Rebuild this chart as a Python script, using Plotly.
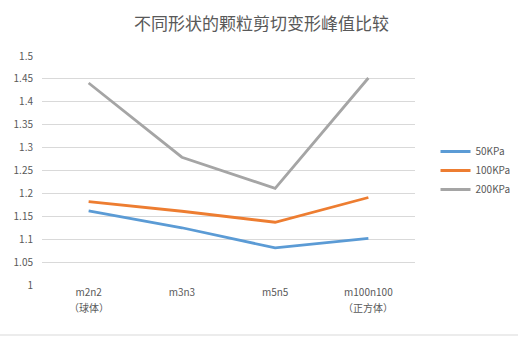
import plotly.graph_objects as go

categories = ["m2n2", "m3n3", "m5n5", "m100n100"]
sub_labels = ["（球体）", "", "", "（正方体）"]
series_names = ["50KPa", "100KPa", "200KPa"]
s50 = [1.162, 1.125, 1.081, 1.102]
s100 = [1.182, 1.161, 1.137, 1.191]
s200 = [1.441, 1.279, 1.211, 1.452]
colors = ["#5B9BD5", "#ED7D31", "#A5A5A5"]
y_ticks = [1, 1.05, 1.1, 1.15, 1.2, 1.25, 1.3, 1.35, 1.4, 1.45, 1.5]
y_tick_text = ["1", "1.05", "1.1", "1.15", "1.2", "1.25", "1.3", "1.35", "1.4", "1.45", "1.5"]

fig = go.Figure()
for name, vals, c in zip(series_names, [s50, s100, s200], colors):
    fig.add_trace(go.Scatter(x=categories, y=vals, mode="lines", name=name,
                             line=dict(color=c, width=2.8)))

font_family = "Noto Sans CJK SC, Microsoft YaHei, sans-serif"
fig.update_layout(
    width=518, height=337,
    margin=dict(l=42, r=103, t=56, b=52, autoexpand=False),
    paper_bgcolor="white", plot_bgcolor="white",
    title=dict(text="不同形状的颗粒剪切变形峰值比较", x=0.505, xanchor="center",
               y=0.93, yanchor="middle",
               font=dict(family=font_family, size=17, color="#595959")),
    font=dict(family=font_family, size=10, color="#595959"),
    showlegend=True,
    legend=dict(x=1.055, y=0.5, xanchor="left", yanchor="middle",
                font=dict(size=10, color="#595959"), bgcolor="rgba(0,0,0,0)",
                tracegroupgap=0, itemwidth=30),
    xaxis=dict(showgrid=False, showline=False, ticks="", zeroline=False,
               tickfont=dict(size=10, color="#595959"), range=[-0.5, 3.5]),
    yaxis=dict(range=[1, 1.5], tickvals=y_ticks, ticktext=y_tick_text,
               showgrid=True, gridcolor="#D9D9D9", gridwidth=1, zeroline=False,
               showline=False, ticks="", ticklabelstandoff=8,
               tickfont=dict(size=10, color="#595959")),
)
for cat, sub in zip(categories, sub_labels):
    if sub:
        fig.add_annotation(x=cat, xref="x", y=0, yref="paper", yanchor="top",
                           yshift=-13, text=sub, showarrow=False,
                           font=dict(size=10, color="#595959"))
fig.add_shape(type="line", xref="paper", yref="paper", x0=-42/373, x1=1+103/373,
              y0=-50/229, y1=-50/229, line=dict(color="#D9D9D9", width=1))
fig.write_html("out.html")
